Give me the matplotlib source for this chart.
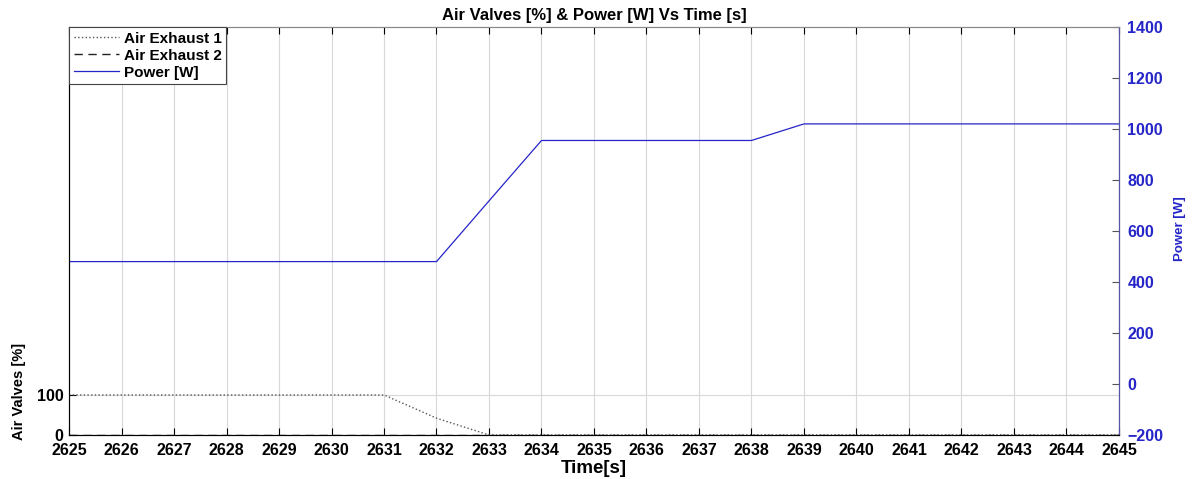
import matplotlib
matplotlib.use("Agg")
import matplotlib.pyplot as plt

plt.rcParams['font.family'] = ['Liberation Sans', 'DejaVu Sans']
plt.rcParams['font.weight'] = 'bold'

# data
time_s = [2625, 2626, 2627, 2628, 2629, 2630, 2631, 2632, 2633, 2634, 2635,
          2636, 2637, 2638, 2639, 2640, 2641, 2642, 2643, 2644, 2645]
air_exhaust_1 = [100, 100, 100, 100, 100, 100, 100, 42, 0, 0, 0,
                 0, 0, 0, 0, 0, 0, 0, 0, 0, 0]
air_exhaust_2 = [0] * len(time_s)
power_w = [480, 480, 480, 480, 480, 480, 480, 480, 718, 955, 955,
           955, 955, 955, 1020, 1020, 1020, 1020, 1020, 1020, 1020]

blue = '#2525c8'

fig = plt.figure(figsize=(11.96, 4.79), dpi=100)
ax = fig.add_axes([0.0577, 0.0919, 0.8779, 0.8517])
ax2 = ax.twinx()

l1, = ax.plot(time_s, air_exhaust_1, linestyle=':', color='#555555', linewidth=1.0, label='Air Exhaust 1')
l2, = ax.plot(time_s, air_exhaust_2, linestyle=(0, (6, 4)), color='#222222', linewidth=1.0, label='Air Exhaust 2')
l3, = ax2.plot(time_s, power_w, color=blue, linewidth=0.9, label='Power [W]')

ax.set_xlim(2625, 2645)
ax.set_ylim(0, 1020)
ax.set_xticks(time_s)
ax.set_yticks([0, 100])
ax2.set_ylim(-200, 1400)
ax2.set_yticks(range(-200, 1401, 200))

ax.grid(True, color='#d8d8d8', linewidth=0.8)
ax.set_axisbelow(True)

fs = 11.5
ax.tick_params(axis='x', direction='in', top=True, labelsize=fs, length=5, pad=6)
ax.tick_params(axis='y', direction='in', labelsize=fs, length=5, pad=4)
ax2.tick_params(axis='y', direction='in', labelsize=fs, length=5, colors='#555555',
                labelcolor=blue, pad=6)
for lab in ax.get_xticklabels() + ax.get_yticklabels() + ax2.get_yticklabels():
    lab.set_fontweight('bold')

for s in ['left', 'bottom']:
    ax.spines[s].set_color('#333333')
ax.spines['top'].set_color('#888888')
ax2.spines['top'].set_color('#888888')
ax2.spines['right'].set_color('#5555aa')

ax.set_xlabel('Time[s]', fontsize=13.5, fontweight='bold', labelpad=1)
ax.set_ylabel('Air Valves [%]', fontsize=10.5, fontweight='bold', loc='bottom')
ax.yaxis.set_label_coords(-0.041, -0.012)
ax2.set_ylabel('Power [W]', fontsize=9.5, fontweight='bold', color=blue)
ax2.yaxis.set_label_coords(1.052, 0.505)
ax.set_title('Air Valves [%] & Power [W] Vs Time [s]', fontsize=12, fontweight='bold', pad=5)

leg = ax2.legend(handles=[l1, l2, l3], loc='upper left', fancybox=False, framealpha=1,
                 edgecolor='#444444', fontsize=11, borderaxespad=0, borderpad=0.3,
                 labelspacing=0.2, handlelength=3.0, handletextpad=0.3)
for t in leg.get_texts():
    t.set_fontweight('bold')
leg.get_frame().set_linewidth(0.8)

fig.savefig('out.png', dpi=100)
